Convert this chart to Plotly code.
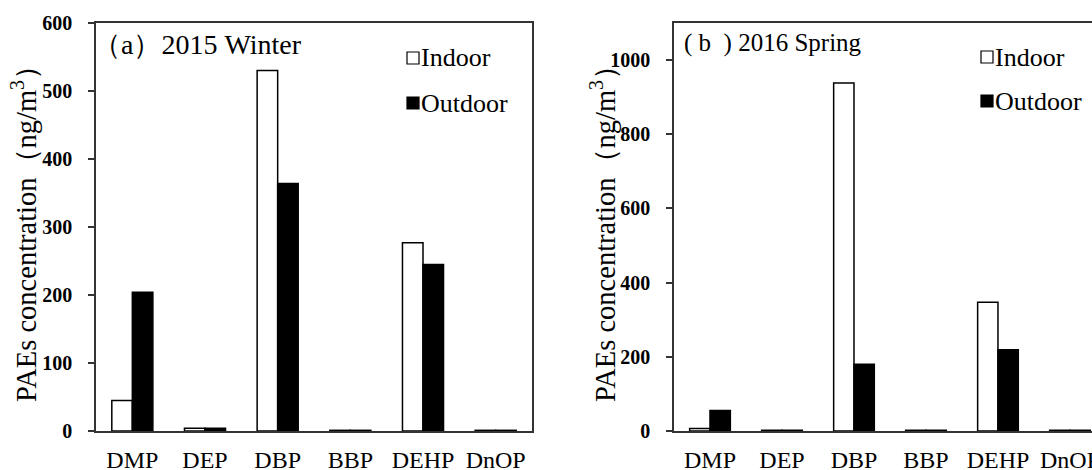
import plotly.graph_objects as go

categories = ["DMP", "DEP", "DBP", "BBP", "DEHP", "DnOP"]
winter_indoor = [45, 4, 530, 1, 277, 1]
winter_outdoor = [204, 4, 364, 1, 245, 1]
spring_indoor = [7, 2, 938, 2, 347, 2]
spring_outdoor = [55, 2, 180, 2, 219, 2]
winter_ticks = [0, 100, 200, 300, 400, 500, 600]
spring_ticks = [0, 200, 400, 600, 800, 1000]

SERIF = "Liberation Serif, Times New Roman, serif"
W, H = 1092, 470

fig = go.Figure()
for xa, ya, ind, outd in [("x", "y", winter_indoor, winter_outdoor),
                          ("x2", "y2", spring_indoor, spring_outdoor)]:
    fig.add_trace(go.Bar(x=categories, y=ind, name="Indoor", xaxis=xa, yaxis=ya,
                         marker=dict(color="white", line=dict(color="black", width=1.5)),
                         showlegend=False))
    fig.add_trace(go.Bar(x=categories, y=outd, name="Outdoor", xaxis=xa, yaxis=ya,
                         marker=dict(color="black", line=dict(color="black", width=1.5)),
                         showlegend=False))

def px(x):
    return x / W

def py(y):
    return 1 - y / H

axis_line = dict(showline=True, linecolor="#333", linewidth=1.5, showgrid=False,
                 zeroline=False, automargin=False)
xtick_font = dict(size=24, family=SERIF)
ytick_font = dict(size=20, family=SERIF, weight="bold")

fig.update_layout(
    width=W, height=H,
    margin=dict(l=0, r=0, t=0, b=0, autoexpand=False),
    paper_bgcolor="white", plot_bgcolor="white",
    barmode="group", bargap=0.435, bargroupgap=0,
    font=dict(family=SERIF, color="black"),
    xaxis=dict(domain=[px(96), px(532)], range=[-0.5, 5.5], anchor="y", mirror=True,
               ticks="", ticklabelstandoff=6, tickfont=xtick_font, **axis_line),
    yaxis=dict(domain=[py(431), py(23)], range=[0, 600], anchor="x", mirror=True,
               tickvals=winter_ticks, ticks="outside", ticklen=6, tickwidth=1.5, tickcolor="#333",
               ticklabelstandoff=12, tickfont=ytick_font, **axis_line),
    xaxis2=dict(domain=[px(674), 1.0], range=[-0.5, 5.306], anchor="y2", mirror=True,
                ticks="", ticklabelstandoff=6, tickfont=xtick_font, **axis_line),
    yaxis2=dict(domain=[py(431), py(23)], range=[0, 1100], anchor="x2", mirror=False,
                tickvals=spring_ticks, ticks="outside", ticklen=6, tickwidth=1.5, tickcolor="#333",
                ticklabelstandoff=12, tickfont=ytick_font, **axis_line),
)

ytitle = "PAEs concentration（ng/m<sup>3</sup>）"
annotations = [
    dict(text=ytitle, x=px(24), y=py(227), textangle=-90, font=dict(size=28.5, family=SERIF)),
    dict(text=ytitle, x=px(603), y=py(227), textangle=-90, font=dict(size=28.5, family=SERIF)),
    dict(text="（a）2015 Winter", x=px(91), y=py(45), xanchor="left", font=dict(size=28, family=SERIF)),
    dict(text="( b\u00a0 ) 2016 Spring", x=px(682), y=py(43), xanchor="left", font=dict(size=25, family=SERIF)),
    dict(text="Indoor", x=px(419), y=py(58), xanchor="left", font=dict(size=26, family=SERIF)),
    dict(text="Outdoor", x=px(419), y=py(103), xanchor="left", font=dict(size=26, family=SERIF)),
    dict(text="Indoor", x=px(993), y=py(57), xanchor="left", font=dict(size=26, family=SERIF)),
    dict(text="Outdoor", x=px(993), y=py(101), xanchor="left", font=dict(size=26, family=SERIF)),
]
for a in annotations:
    a.update(xref="paper", yref="paper", showarrow=False, yanchor="middle")
    a.setdefault("xanchor", "center")
fig.update_layout(annotations=annotations)

shapes = []
for (x0, y0, fill) in [(407, 52, "white"), (407, 97, "black"), (981, 51, "white"), (981, 95, "black")]:
    shapes.append(dict(type="rect", xref="paper", yref="paper",
                       x0=px(x0), x1=px(x0 + 12), y0=py(y0 + 12), y1=py(y0),
                       fillcolor=fill, line=dict(color="black", width=1.2)))
fig.update_layout(shapes=shapes)

fig.write_html("out.html", config={"displayModeBar": False},
               post_script="document.body.style.margin='0';")
